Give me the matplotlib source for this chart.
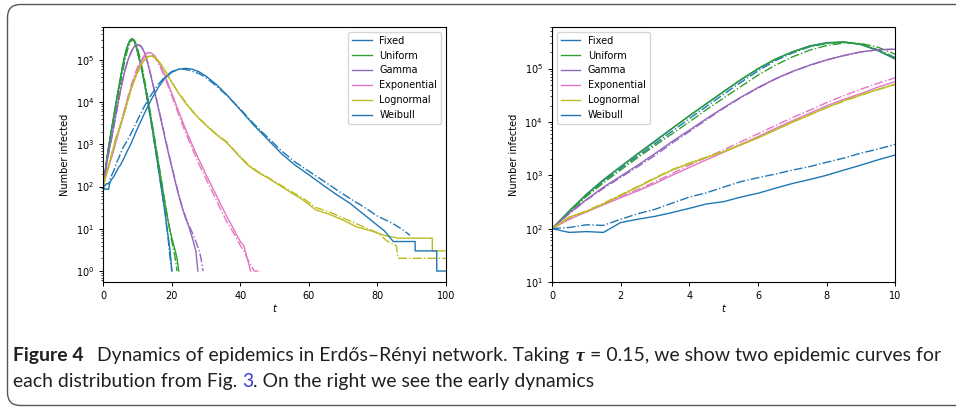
import numpy as np
import matplotlib.pyplot as plt
from matplotlib.patches import FancyBboxPatch
from matplotlib.transforms import IdentityTransform
from matplotlib.font_manager import FontProperties

# early part of every curve, t = 0 .. 10 (this is what the right panel shows)
t_early = [0, 0.5, 1, 1.5, 2, 2.5, 3, 3.5, 4, 4.5, 5, 5.5, 6, 6.5, 7, 7.5, 8, 8.5, 9, 9.5, 10]

# run 1 (solid) and run 2 (dash-dot) for each distribution
fixed_1 = [100, 215, 440, 830, 1450, 2550, 4400, 7600, 13000, 22000, 37000, 61000,
           98000, 148000, 205000, 265000, 305000, 315000, 280000, 215000, 150000]
fixed_2 = [100, 205, 420, 770, 1350, 2300, 3900, 6700, 11500, 19500, 33000, 55000,
           90000, 140000, 195000, 255000, 295000, 310000, 285000, 225000, 160000]
fixed_tail_t1 = [11, 12, 13, 14, 15, 16, 17, 18, 18.5, 19, 19.5, 20]
fixed_tail_1 = [70000, 28000, 10000, 3300, 1000, 300, 85, 25, 11, 6, 3, 1]
fixed_tail_t2 = [11, 12, 13, 14, 15, 16, 17, 18, 18.5, 19, 19.5, 20]
fixed_tail_2 = [73000, 28000, 9500, 3100, 950, 290, 85, 25, 12, 5, 2, 1]

uniform_1 = [100, 210, 430, 800, 1450, 2500, 4300, 7500, 13000, 22000, 37000, 62000,
             100000, 150000, 205000, 260000, 300000, 315000, 285000, 220000, 155000]
uniform_2 = [100, 200, 400, 720, 1250, 2150, 3600, 6000, 10000, 17000, 28000, 46000,
             75000, 115000, 165000, 220000, 270000, 300000, 295000, 250000, 185000]
uniform_tail_t1 = [11, 12, 13, 14, 15, 16, 17, 18, 19, 19.5, 20, 21, 21.5, 22]
uniform_tail_1 = [75000, 30000, 11000, 3800, 1250, 400, 125, 40, 14, 9, 6, 3, 2, 1]
uniform_tail_t2 = [11, 12, 13, 14, 15, 16, 17, 18, 19, 20, 21, 21.5]
uniform_tail_2 = [90000, 35000, 12500, 4200, 1350, 430, 135, 42, 14, 5, 2, 1]

gamma_1 = [100, 195, 350, 600, 960, 1550, 2550, 4300, 7000, 11500, 18500, 29000,
           44000, 64000, 88000, 115000, 145000, 175000, 205000, 225000, 230000]
gamma_2 = [100, 190, 340, 570, 910, 1450, 2350, 4000, 6600, 11000, 18000, 28500,
           43000, 63000, 87000, 115000, 145000, 175000, 205000, 225000, 230000]
gamma_tail_t1 = [11, 12, 13, 14, 15, 16, 17, 18, 19, 20, 21, 22, 23, 24, 25, 26, 27, 27.6]
gamma_tail_1 = [210000, 150000, 80000, 38000, 17000, 7500, 3300, 1400, 620, 280, 130,
                62, 32, 18, 11, 6, 3, 1]
gamma_tail_t2 = [11, 12, 13, 14, 15, 16, 17, 18, 19, 20, 21, 22, 23, 24, 25, 26, 27,
                 28, 28.5, 29.1]
gamma_tail_2 = [215000, 155000, 85000, 40000, 18000, 8000, 3500, 1500, 650, 300, 140,
                65, 34, 19, 12, 8, 5, 3, 2, 1]

expo_1 = [100, 150, 205, 280, 380, 510, 700, 1000, 1400, 1950, 2700, 3800,
          5300, 7500, 10500, 14500, 20000, 26500, 34000, 45000, 57000]
expo_2 = [100, 150, 210, 290, 400, 540, 750, 1080, 1550, 2150, 3000, 4250,
          6000, 8500, 12000, 16500, 23000, 31000, 41000, 53000, 67000]
expo_tail_t1 = [11, 12, 13, 14, 15, 16, 17, 18, 19, 20, 22, 24, 26, 28, 30, 32, 34, 36,
                37, 38, 39, 40, 41, 42, 43]
expo_tail_1 = [85000, 120000, 150000, 145000, 125000, 95000, 65000, 42000, 26000, 16000,
               6000, 2300, 950, 420, 190, 90, 42, 20, 14, 10, 7, 5, 4, 2, 1]
expo_tail_t2 = [11, 12, 13, 14, 15, 16, 17, 18, 19, 20, 22, 24, 26, 28, 30, 32, 34, 36,
                38, 40, 41, 42, 44, 46]
expo_tail_2 = [95000, 130000, 150000, 140000, 115000, 85000, 58000, 37000, 23000, 14000,
               5000, 1900, 780, 330, 150, 70, 32, 15, 8, 4, 3, 2, 1, 1]

logn_1 = [100, 165, 210, 290, 420, 600, 870, 1250, 1650, 2150, 2750, 3700,
          5000, 7000, 9800, 13500, 18500, 25000, 32000, 41000, 51000]
logn_2 = [100, 160, 215, 300, 430, 620, 900, 1280, 1700, 2200, 2800, 3750,
          5100, 7100, 9900, 13500, 18500, 24500, 31500, 40000, 50000]
logn_tail_t1 = [11, 12, 13, 14, 15, 16, 17, 18, 19, 20, 22, 24, 26, 28, 30, 33, 36, 39,
                42, 45, 48, 52, 55, 58, 62, 66, 70, 74, 78, 82, 86, 90, 96, 96, 100]
logn_tail_1 = [75000, 100000, 120000, 124000, 115000, 95000, 75000, 55000, 40000, 29000,
               16000, 9500, 6000, 4000, 2800, 1700, 1100, 600, 330, 220, 160, 100, 70,
               50, 28, 22, 16, 11, 9, 7, 6, 6, 6, 3, 3]
logn_tail_t2 = [11, 12, 13, 14, 15, 16, 17, 18, 19, 20, 22, 24, 26, 28, 30, 33, 36, 39,
                42, 45, 48, 52, 55, 58, 62, 66, 70, 74, 80, 83, 85.5, 86, 100]
logn_tail_2 = [74000, 99000, 118000, 122000, 114000, 95000, 75000, 56000, 41000, 30000,
               16500, 10000, 6200, 4100, 2900, 1750, 1150, 620, 350, 230, 165, 105, 75,
               55, 32, 25, 18, 13, 8, 5, 4, 2, 2]

weib_1 = [100, 85, 88, 85, 130, 150, 170, 200, 240, 290, 320, 390,
          460, 570, 700, 830, 1000, 1250, 1550, 1950, 2400]
weib_2 = [100, 105, 118, 115, 150, 190, 230, 300, 390, 470, 600, 760,
          900, 1050, 1250, 1450, 1750, 2100, 2600, 3100, 3800]
weib_tail_t1 = [12, 14, 16, 18, 20, 22, 24, 26, 28, 30, 33, 36, 40, 44, 48, 52, 56, 60,
                64, 68, 72, 76, 79, 82, 84.6, 91, 91, 97.3, 97.3, 100]
weib_tail_1 = [5400, 11500, 22000, 37000, 51000, 60000, 63000, 60000, 52000, 41000,
               26000, 15000, 6500, 2800, 1300, 600, 320, 190, 110, 65, 40, 22, 14, 9,
               5, 5, 3, 3, 1, 1]
weib_tail_t2 = [12, 14, 16, 18, 20, 22, 23, 25, 28, 30, 33, 36, 40, 44, 48, 52, 56, 60,
                64, 68, 72, 76, 80, 84, 87, 89.5]
weib_tail_2 = [8000, 15000, 26000, 40000, 53000, 60000, 61000, 57000, 47000, 38000,
               24000, 14500, 6800, 3000, 1450, 700, 380, 230, 140, 85, 52, 33, 20, 14,
               10, 7]

names = ['Fixed', 'Uniform', 'Gamma', 'Exponential', 'Lognormal', 'Weibull']
colors = ['#1f77b4', '#2ca02c', '#9467bd', '#e377c2', '#bcbd22', '#1f77b4']
runs = [
    (fixed_1 + fixed_tail_1, fixed_tail_t1, fixed_2 + fixed_tail_2, fixed_tail_t2),
    (uniform_1 + uniform_tail_1, uniform_tail_t1, uniform_2 + uniform_tail_2, uniform_tail_t2),
    (gamma_1 + gamma_tail_1, gamma_tail_t1, gamma_2 + gamma_tail_2, gamma_tail_t2),
    (expo_1 + expo_tail_1, expo_tail_t1, expo_2 + expo_tail_2, expo_tail_t2),
    (logn_1 + logn_tail_1, logn_tail_t1, logn_2 + logn_tail_2, logn_tail_t2),
    (weib_1 + weib_tail_1, weib_tail_t1, weib_2 + weib_tail_2, weib_tail_t2),
]

W, H = 956, 407
fig = plt.figure(figsize=(W / 100, H / 100), dpi=100)

# page frame around figure + caption
frame = FancyBboxPatch((7.5, 1.5), 990, 401, boxstyle='round,pad=0,rounding_size=13',
                       transform=IdentityTransform(), facecolor='none',
                       edgecolor='#555555', lw=1.0)
fig.add_artist(frame)

ax1 = fig.add_axes([103.3 / W, 1 - 282 / H, (446 - 103.3) / W, 255 / H])
ax2 = fig.add_axes([552 / W, 1 - 282 / H, (895.3 - 552) / W, 255 / H])

for ax in (ax1, ax2):
    for name, c, (y1, t1, y2, t2) in zip(names, colors, runs):
        ax.plot(t_early + t1, y1, color=c, lw=1.0, label=name)
        ax.plot(t_early + t2, y2, color=c, lw=1.0, ls='-.')
    ax.set_yscale('log')
    ax.set_xlabel('$t$', fontsize=7, labelpad=0.5)
    ax.set_ylabel('Number infected', fontsize=7)
    ax.tick_params(labelsize=7, length=3, width=0.7)
    ax.tick_params(which='minor', length=1.8, width=0.5)

ax1.set_xlim(0, 100)
ax1.set_ylim(0.55, 6e5)
ax2.set_xlim(0, 10)
ax2.set_ylim(10, 6e5)
ax1.legend(loc='upper right', fontsize=7)
ax2.legend(loc='upper left', fontsize=7)

# caption, drawn piece by piece so the bold / blue / greek parts line up
sans = ['Lato', 'DejaVu Sans']
serif = ['Liberation Serif', 'DejaVu Serif']
ink = '#231f20'
line1 = [('Figure 4', 0, dict(family=sans, weight='bold', color=ink)),
         ('Dynamics of epidemics in Erdős–Rényi network. Taking', 0.7,
          dict(family=sans, color=ink)),
         ('τ', 0.3, dict(family=serif, style='italic', weight='bold', color=ink)),
         ('= 0.15, we show two epidemic curves for', 0.3, dict(family=sans, color=ink))]
line2 = [('each distribution from Fig.', 0, dict(family=sans, color=ink)),
         ('3', 0.25, dict(family=sans, color='#3b3bd1')),
         ('. On the right we see the early dynamics', 0, dict(family=sans, color=ink))]

r = fig.canvas.get_renderer()


def line_width(pieces, size):
    w = 0
    for s, gap, kw in pieces:
        fp = FontProperties(family=kw['family'], weight=kw.get('weight', 'normal'),
                            style=kw.get('style', 'normal'), size=size)
        w += gap * size * 100 / 72 + r.get_text_width_height_descent(s, fp, False)[0]
    return w


def draw_line(pieces, x, y, size):
    for s, gap, kw in pieces:
        x += gap * size * 100 / 72
        t = fig.text(x / W, y / H, s, va='baseline', ha='left', fontsize=size, **kw)
        x = t.get_window_extent(r).x1


size = 12.5
size = size * (942 - 13) / line_width(line1, size)
draw_line(line1, 13, H - 361, size)
draw_line(line2, 13, H - 387, size)

fig.savefig('out.png', dpi=100)
